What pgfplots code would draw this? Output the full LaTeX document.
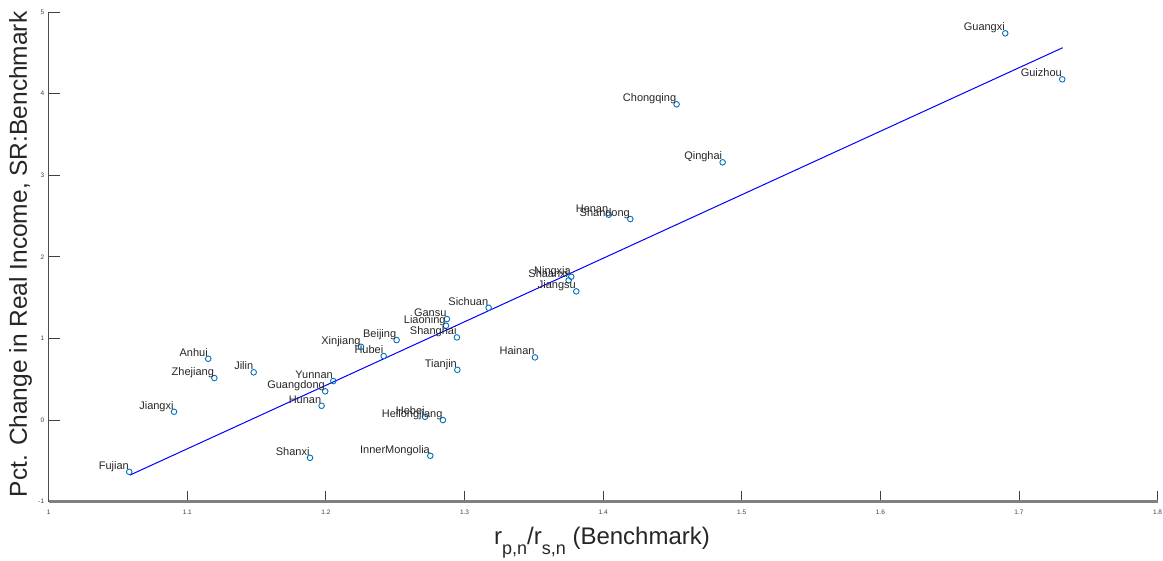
\documentclass[border=0pt]{standalone}
\usepackage{fontspec}
\setmainfont{Liberation Sans}
\usepackage{pgfplots}
\pgfplotsset{compat=1.18}
\usepackage{pgfplotstable}
\definecolor{mblue}{rgb}{0,0.447,0.741}
\pgfplotstableread{
x y name
1.6901 4.739 Guangxi
1.7312 4.175 Guizhou
1.4530 3.869 Chongqing
1.4862 3.158 Qinghai
1.4040 2.516 Henan
1.4196 2.463 Shandong
1.3770 1.756 Ningxia
1.3751 1.712 Shaanxi
1.3806 1.577 Jiangsu
1.3508 0.768 Hainan
1.3174 1.376 Sichuan
1.2873 1.238 Gansu
1.2866 1.156 Liaoning
1.2945 1.013 Shanghai
1.2510 0.980 Beijing
1.2417 0.784 Hubei
1.2253 0.898 Xinjiang
1.2948 0.616 Tianjin
1.2715 0.040 Hebei
1.2844 0.000 Heilongjiang
1.2753 -0.4375 InnerMongolia
1.1151 0.751 Anhui
1.1195 0.515 Zhejiang
1.1479 0.585 Jilin
1.2053 0.478 Yunnan
1.1995 0.352 Guangdong
1.1969 0.175 Hunan
1.0904 0.102 Jiangxi
1.1885 -0.462 Shanxi
1.0581 -0.634 Fujian
}\prov
\begin{document}
\begin{tikzpicture}
\begin{axis}[
  scale only axis, width=1109pt, height=489.7pt,
  xmin=1, xmax=1.8, ymin=-1, ymax=5,
  axis lines=left,
  x axis line style={-, draw=black!50, line width=2.4pt},
  y axis line style={-, draw=black!70, line width=1.1pt},
  tick align=inside,
  major tick length=11pt,
  tick style={draw=black!75, line width=0.9pt},
  xtick={1,1.1,1.2,1.3,1.4,1.5,1.6,1.7,1.8},
  ytick={-1,0,1,2,3,4,5},
  xticklabels={1,1.1,1.2,1.3,1.4,1.5,1.6,1.7,1.8},
  /pgf/number format/assume math mode=true,
  tick label style={font=\fontsize{6.5}{7}\selectfont, text=black!75},
  xticklabel style={yshift=-5pt},
  yticklabel style={xshift=-1pt},
  clip=false,
  every axis y label/.style={at={(axis description cs:-0.0255,0.505)}, rotate=90, anchor=center, font=\fontsize{24.5}{24}\selectfont, text=black!85},
  every axis x label/.style={at={(axis description cs:0.499,-0.087)}, anchor=base, font=\fontsize{24}{24}\selectfont, text=black!85},
  ylabel={Pct. Change in Real Income, SR:Benchmark},
  xlabel={r\raisebox{-10pt}{\fontsize{18}{18}\selectfont p,n}/r\raisebox{-10pt}{\fontsize{18}{18}\selectfont s,n} (Benchmark)},
]
\addplot[blue, line width=1pt] coordinates {(1.0586,-0.674) (1.7315,4.562)};
\addplot[only marks, mark=o, mark size=2.8pt, mark options={draw=mblue, line width=0.9pt},
  nodes near coords, point meta=explicit symbolic,
  every node near coord/.append style={anchor=base east, yshift=2.5pt, inner sep=0pt, font=\fontsize{11}{11}\selectfont, text=black!85}]
  table[x=x, y=y, meta=name] {\prov};
\end{axis}
\pgfresetboundingbox
\path[use as bounding box] (-48.7pt,-59.3pt) rectangle (1114.3pt,501.7pt);
\end{tikzpicture}
\end{document}
